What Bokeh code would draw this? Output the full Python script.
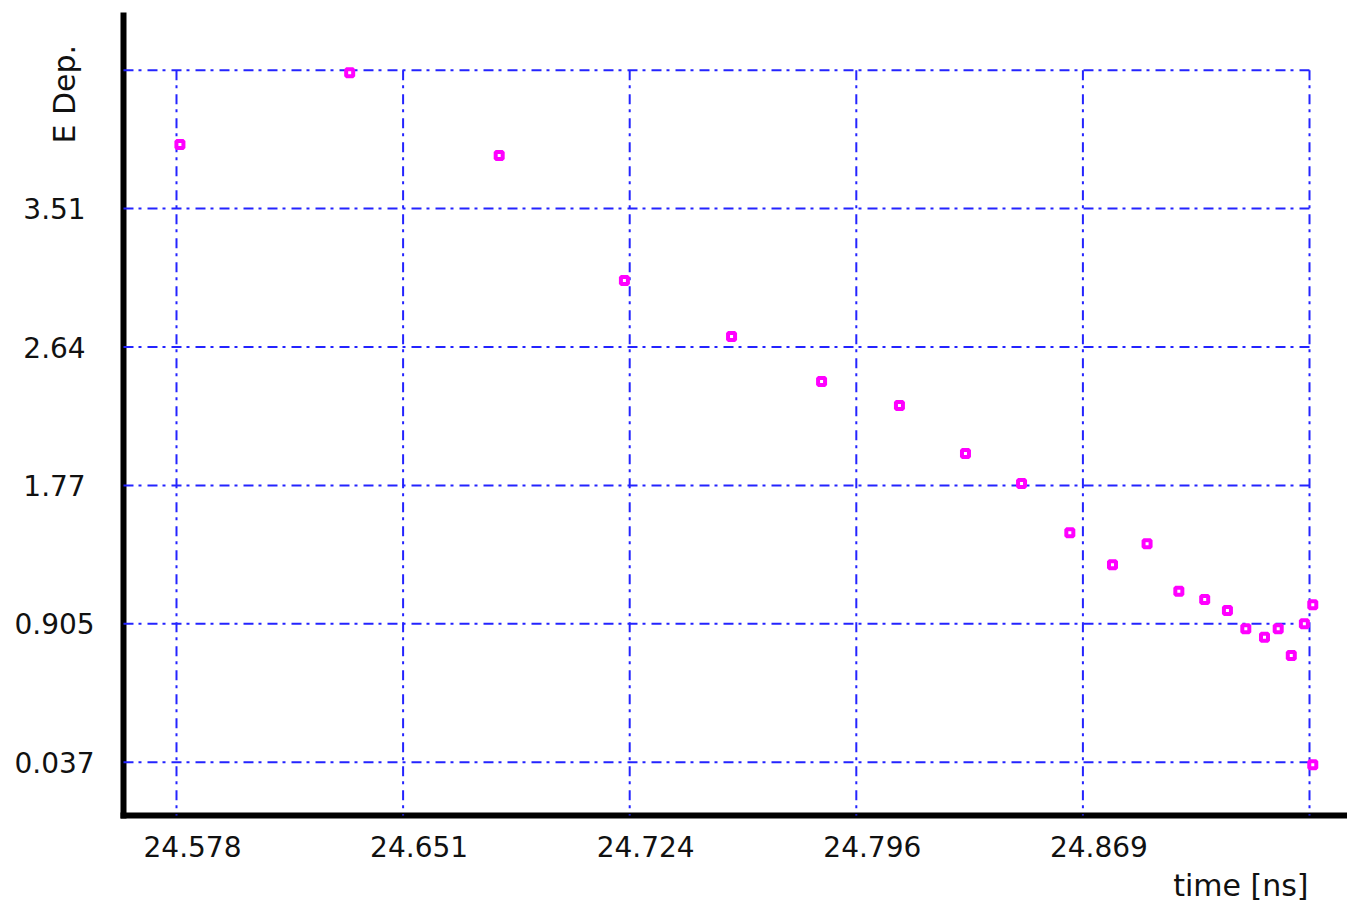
import math
from bokeh.plotting import figure
from bokeh.models import Range1d, LinearAxis, FixedTicker, Label, ColumnDataSource
from bokeh.core.properties import value
from bokeh.embed import file_html
from bokeh.resources import INLINE

# ---- data ----
time_ns = [24.5791, 24.6336, 24.6816, 24.7218, 24.7562, 24.7851, 24.8101, 24.8313,
           24.8493, 24.8648, 24.8785, 24.8896, 24.8998, 24.9081, 24.9154, 24.9213,
           24.9273, 24.9317, 24.9359, 24.9401, 24.9428, 24.9428]
e_dep = [3.912, 4.361, 3.843, 3.059, 2.707, 2.425, 2.274, 1.973,
         1.785, 1.476, 1.275, 1.407, 1.109, 1.057, 0.988, 0.874,
         0.821, 0.874, 0.706, 0.905, 1.024, 0.020]

x_ticks = [24.578, 24.65075, 24.7235, 24.79625, 24.869, 24.94175]
x_tick_labels = ["24.578", "24.651", "24.724", "24.796", "24.869", ""]
y_ticks = [0.0367, 0.9049, 1.7731, 2.6413, 3.5095, 4.3777]
y_tick_labels = ["0.037", "0.905", "1.77", "2.64", "3.51", ""]

x_title = "time [ns]"
y_title = "E Dep."

# ---- layout (frame covers the whole canvas; axes sit at fixed locations) ----
X_START, X_END = 24.521496, 24.953947
Y_START, Y_END = -0.84342, 4.81495
X_AXIS = 24.560984          # where the y axis is drawn
Y_AXIS = -0.29766           # where the x axis is drawn
Y_AXIS_TOP = 4.7209
PX_PER_X = 3114.8
LABEL_SHIFT = 16 / PX_PER_X

FONT = "DejaVu Sans"
GRID_COLOR = "#2424ff"
TXT = "#111111"

p = figure(width=1347, height=902,
           x_range=Range1d(X_START, X_END), y_range=Range1d(Y_START, Y_END),
           x_axis_location=None, y_axis_location=None,
           output_backend="svg", toolbar_location=None,
           min_border=0, min_border_left=0, min_border_right=0,
           min_border_top=0, min_border_bottom=0)
p.outline_line_color = None
p.background_fill_color = "white"
p.border_fill_color = "white"
p.xgrid.visible = False
p.ygrid.visible = False

# x axis: tick labels sit slightly right of their grid lines -> shifted range
p.extra_x_ranges = {"lab": Range1d(X_START - LABEL_SHIFT, X_END - LABEL_SHIFT)}
xaxis = LinearAxis(x_range_name="lab", ticker=FixedTicker(ticks=x_ticks),
                   major_label_overrides=dict(zip(x_ticks, x_tick_labels)),
                   fixed_location=Y_AXIS,
                   bounds=(X_AXIS - LABEL_SHIFT, X_END - LABEL_SHIFT))
p.add_layout(xaxis, "below")

# y axis: line only; its tick labels are centred text (drawn below)
yaxis = LinearAxis(ticker=FixedTicker(ticks=y_ticks),
                   major_label_overrides={t: "" for t in y_ticks},
                   fixed_location=X_AXIS, bounds=(Y_AXIS, Y_AXIS_TOP))
p.add_layout(yaxis, "left")

for ax in (xaxis, yaxis):
    ax.axis_line_color = "black"
    ax.axis_line_width = 6
    ax.axis_line_cap = "square"
    ax.major_tick_line_color = None
    ax.minor_tick_line_color = None
    ax.major_tick_out = 0
    ax.major_tick_in = 0
    ax.minor_tick_out = 0
    ax.major_label_text_font = FONT
    ax.major_label_text_font_size = "28px"
    ax.major_label_text_color = TXT
xaxis.major_label_standoff = 20

p.text(x=[X_AXIS] * len(y_ticks), y=y_ticks, text=y_tick_labels,
       x_offset=-69, text_align="center", text_baseline="middle",
       text_font=value(FONT), text_font_size="28px", text_color=TXT)

# ---- dash-dot grid, limited to the tick box ----
hsrc = ColumnDataSource(dict(x0=[X_AXIS] * len(y_ticks), x1=[x_ticks[-1]] * len(y_ticks),
                             y0=y_ticks, y1=y_ticks))
vsrc = ColumnDataSource(dict(x0=x_ticks, x1=x_ticks,
                             y0=[y_ticks[-1]] * len(x_ticks), y1=[Y_AXIS] * len(x_ticks)))
for src in (hsrc, vsrc):
    r = p.segment(x0="x0", y0="y0", x1="x1", y1="y1", source=src,
                  line_color=GRID_COLOR, line_width=2, line_dash="10 5 3 6")
    r.level = "annotation"

# ---- points ----
pts = p.scatter(time_ns, e_dep, marker="square", size=7, fill_color="white",
                line_color="#ff00ff", line_width=4)
pts.level = "overlay"

# ---- axis titles ----
p.add_layout(Label(x=X_AXIS, y=y_ticks[-1], x_offset=-59, y_offset=-24,
                   text=y_title, angle=math.pi / 2, text_align="center",
                   text_baseline="middle", text_font=FONT, text_font_size="30px",
                   text_color=TXT))
p.add_layout(Label(x=x_ticks[-1], y=Y_AXIS, x_offset=-1, y_offset=-70,
                   text=x_title, text_align="right", text_baseline="middle",
                   text_font=FONT, text_font_size="30px", text_color=TXT))

open("out.html", "w").write(file_html(p, INLINE))
